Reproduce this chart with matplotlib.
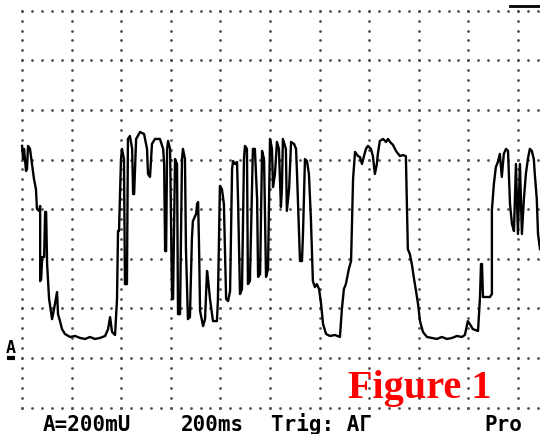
import numpy as np
from matplotlib import pyplot as plt

temps_ms = [0, 4, 8, 16, 20, 24, 32, 40, 48, 56, 60, 69, 73, 73, 77, 81, 89, 93, 97, 101,
            109, 121, 129, 141, 145, 153, 161, 173, 194, 214, 234, 254, 274, 294, 314, 335,
            347, 355, 363, 375, 383, 387, 391, 399, 403, 411, 415, 423, 427, 435, 444, 448,
            452, 460, 476, 492, 504, 508, 516, 524, 536, 556, 569, 573, 577, 581, 585, 589,
            597, 605, 609, 617, 625, 629, 637, 645, 649, 657, 661, 669, 677, 685, 689, 702,
            706, 710, 714, 718, 730, 738, 746, 750, 758, 770, 786, 790, 798, 806, 814, 823,
            831, 839, 847, 851, 859, 867, 871, 879, 887, 895, 899, 907, 911, 919, 931, 939,
            948, 952, 960, 968, 976, 984, 992, 1000, 1008, 1012, 1020, 1028, 1036, 1044, 1048,
            1052, 1064, 1068, 1077, 1085, 1097, 1105, 1109, 1117, 1121, 1129, 1133, 1141, 1149,
            1157, 1165, 1173, 1181, 1189, 1198, 1206, 1214, 1226, 1242, 1262, 1282, 1290, 1298,
            1306, 1318, 1327, 1335, 1343, 1355, 1363, 1371, 1379, 1387, 1395, 1407, 1415, 1423,
            1431, 1435, 1443, 1456, 1468, 1476, 1484, 1496, 1508, 1524, 1536, 1548, 1556, 1564,
            1572, 1581, 1589, 1597, 1605, 1617, 1633, 1653, 1673, 1693, 1714, 1734, 1754, 1774,
            1786, 1798, 1806, 1818, 1839, 1847, 1851, 1855, 1859, 1887, 1895, 1895, 1903, 1911,
            1919, 1927, 1935, 1943, 1952, 1960, 1968, 1976, 1984, 1992, 2000, 2008, 2016, 2024,
            2032, 2040, 2048, 2056, 2064, 2068, 2076, 2081, 2089]
tension_mv = [855, 802, 843, 754, 762, 855, 843, 782, 722, 681, 601, 593, 613, 310, 319, 407,
              407, 589, 589, 379, 238, 157, 198, 266, 177, 149, 117, 97, 85, 89, 81, 77, 85, 77,
              81, 89, 117, 165, 105, 93, 238, 512, 512, 802, 843, 802, 298, 298, 883, 895, 843,
              661, 661, 883, 911, 903, 843, 742, 730, 863, 883, 883, 843, 782, 431, 431, 843,
              875, 843, 238, 238, 802, 782, 177, 177, 802, 843, 802, 439, 157, 165, 480, 552,
              581, 621, 629, 439, 190, 129, 157, 351, 319, 238, 149, 149, 238, 694, 681, 621,
              238, 230, 270, 762, 794, 782, 790, 641, 258, 278, 802, 855, 843, 298, 310, 843,
              843, 641, 327, 339, 835, 802, 327, 359, 883, 843, 689, 742, 871, 843, 609, 681,
              883, 843, 593, 681, 871, 863, 843, 742, 512, 391, 391, 500, 802, 794, 742, 560,
              310, 286, 298, 278, 218, 137, 97, 89, 93, 85, 198, 278, 298, 359, 391, 722, 831,
              814, 810, 782, 814, 843, 855, 843, 814, 742, 782, 823, 875, 883, 871, 883, 871,
              859, 835, 814, 818, 814, 439, 419, 379, 319, 270, 218, 149, 105, 85, 81, 77, 85,
              77, 81, 89, 85, 93, 149, 137, 117, 109, 246, 379, 379, 246, 246, 258, 597, 702,
              770, 790, 823, 730, 823, 843, 835, 621, 540, 512, 782, 500, 782, 500, 641, 742,
              802, 843, 835, 802, 742, 641, 500, 439]

ms_par_div = 200
mv_par_div = 200
nb_div_x = 10
lignes_y = [-200, 0, 200, 400, 600, 800, 1000, 1200, 1400]
textes_bas = ['A=200mU', '200ms', 'Trig: AΓ', 'Pro']
pos_textes_bas = [85, 640, 1005, 1865]

fig = plt.figure(figsize=(5.4, 4.35), dpi=100)
ax = fig.add_axes([0, 0, 1, 1])
ax.set_xlim(-89, 2089)
ax.set_ylim(-306, 1447)
ax.axis('off')

# grille en pointilles (5 points par division)
pas = ms_par_div / 5
for k in range(nb_div_x + 1):
    yy = np.arange(lignes_y[0], lignes_y[-1] + 1, mv_par_div / 5)
    ax.scatter(np.full(len(yy), k * ms_par_div), yy, s=4, color='#505050', lw=0, zorder=1)
for v in lignes_y:
    xx = np.arange(0, 2089, pas)
    ax.scatter(xx, np.full(len(xx), v), s=4, color='#505050', lw=0, zorder=1)

ax.plot(temps_ms, tension_mv, color='black', lw=1.7, zorder=3)

# repere de masse "A"
ax.text(-45, 24, 'A', fontsize=12, fontweight='bold', family='DejaVu Sans Mono',
        ha='center', va='baseline')
ax.plot([-60, -29], [-1, -1], color='black', lw=3, solid_capstyle='butt')
ax.plot([1970, 2089], [1420, 1420], color='black', lw=2)

# textes du bas
for x0, txt in zip(pos_textes_bas, textes_bas):
    ax.text(x0, -288, txt, fontsize=15, fontweight='bold', family='DejaVu Sans Mono',
            ha='left', va='baseline')

ax.text(1605, -155, 'Figure 1', fontsize=29, fontweight='bold', family='Liberation Serif',
        color='#ff0000', ha='center', va='baseline')

plt.savefig('out.png', dpi=100)
